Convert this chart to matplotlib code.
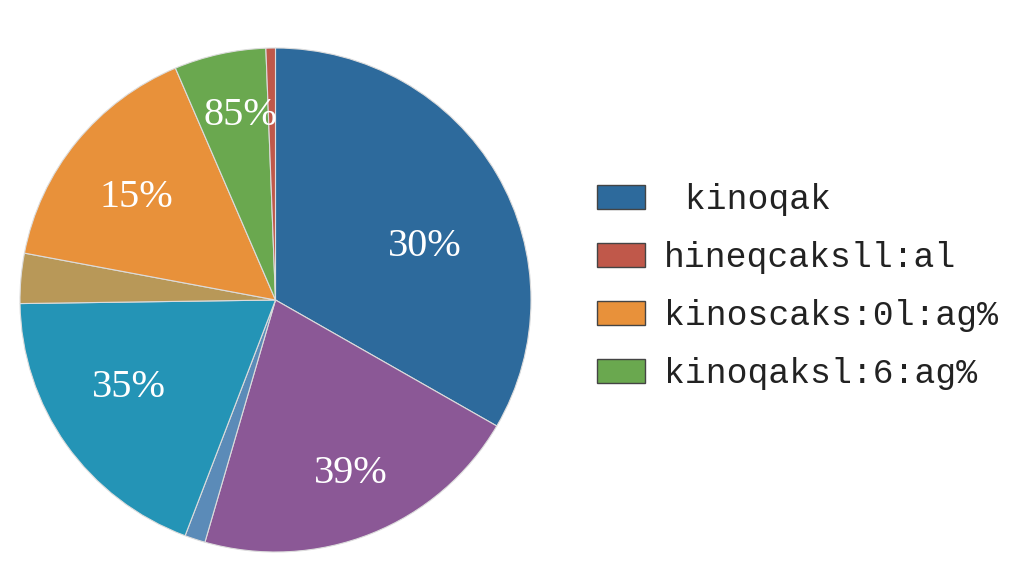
import numpy as np
import matplotlib.pyplot as plt
from matplotlib.patches import Patch

# slice shares, clockwise from the top
shares = [33.3, 21.1, 1.3, 19.0, 3.2, 15.6, 5.8, 0.6]
colors = ["#2d6a9c", "#8b5896", "#5b8bb8", "#2494b6", "#b89858", "#e8913a", "#6aa84f", "#c0584a"]

# labels written inside some slices (text as it appears)
slice_text = ["30%", "39%", "", "35%", "", "15%", "85%", ""]
text_radius = [0.62, 0.75, 0, 0.67, 0, 0.68, 0.745, 0]
text_shift = [-10, 1, 0, -4, 0, 2, -2, 0]  # degrees off the slice middle

legend_labels = [" kinoqak", "hineqcaksll:al", "kinoscaks:0l:ag%", "kinoqaksl:6:ag%"]
legend_colors = ["#2d6a9c", "#c0584a", "#e8913a", "#6aa84f"]

fig = plt.figure(figsize=(10.24, 5.76), dpi=100)
ax = fig.add_axes([20 / 1024, 24 / 576, 511 / 1024, 504 / 576])

wedges, _ = ax.pie(shares, colors=colors, startangle=90, counterclock=False,
                   radius=1.0, wedgeprops=dict(edgecolor="#dcdcdc", linewidth=0.8))
ax.set_xlim(-1, 1)
ax.set_ylim(-1, 1)
ax.set_aspect("auto")
ax.axis("off")

for w, txt, r, sh in zip(wedges, slice_text, text_radius, text_shift):
    if not txt:
        continue
    mid = np.deg2rad((w.theta1 + w.theta2) / 2 + sh)
    ax.text(r * np.cos(mid), r * np.sin(mid), txt, ha="center", va="center",
            color="white", fontsize=29, family="Liberation Serif")

handles = [Patch(facecolor=c, edgecolor="#444444", linewidth=1.0) for c in legend_colors]
fig.legend(handles, legend_labels, loc="center left", bbox_to_anchor=(566 / 1024, 0.502),
           frameon=False, prop=dict(family="Liberation Mono", size=25),
           handlelength=1.37, handleheight=0.7, handletextpad=0.55,
           labelspacing=0.72, labelcolor="#222222")

fig.savefig("out.png", dpi=100)
